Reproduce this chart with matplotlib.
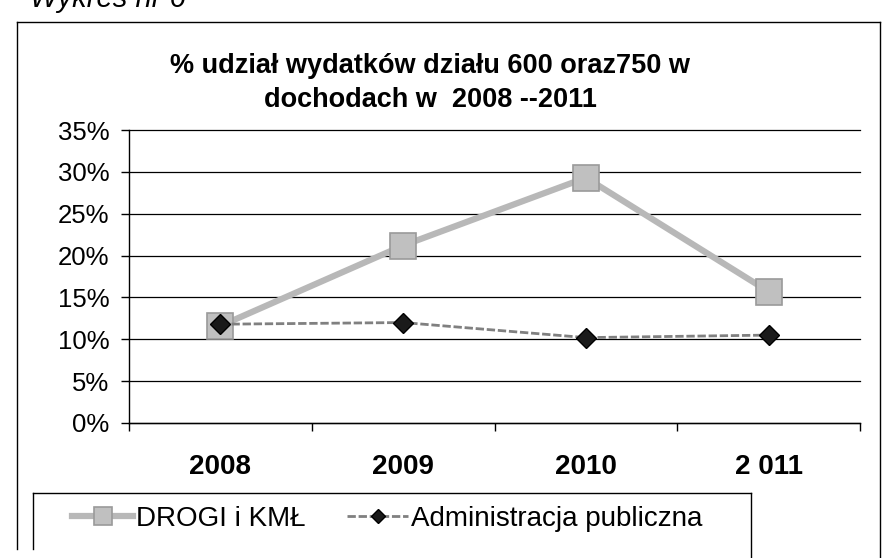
import matplotlib
matplotlib.use('Agg')
import matplotlib.pyplot as plt
from matplotlib.lines import Line2D
from matplotlib.ticker import PercentFormatter

# ---- data ----
years = ['2008', '2009', '2010', '2 011']
drogi = [11.6, 21.2, 29.3, 15.7]
admin = [11.8, 12.0, 10.2, 10.5]
y_ticks = [0, 5, 10, 15, 20, 25, 30, 35]
series_names = ['DROGI i KMŁ', 'Administracja publiczna']
title_l1 = '% udział wydatków działu 600 oraz750 w'
title_l2 = 'dochodach w  2008 --2011'
caption = 'Wykres nr 6'

plt.rcParams['font.family'] = ['Liberation Sans', 'DejaVu Sans']

W, H = 882, 558
fig = plt.figure(figsize=(W / 100, H / 100), dpi=100)
fig.patch.set_facecolor('white')

def fx(px):
    return px / W

def fy(py):
    return 1 - py / H

ax = fig.add_axes([fx(129), fy(423), fx(860) - fx(129), (423 - 130) / H])
x = list(range(len(years)))
l1, = ax.plot(x, drogi, color='#b8b8b8', lw=4.5, marker='s', ms=19,
              mfc='#c0c0c0', mec='#9a9a9a', mew=1.2, zorder=3,
              label=series_names[0])
l2, = ax.plot(x, admin, color='#808080', lw=2, ls=(0, (3, 1)), marker='D',
              ms=10.5, mfc='#1a1a1a', mec='#000000', zorder=4,
              label=series_names[1])

ax.set_xlim(-0.5, len(years) - 0.5)
ax.set_ylim(0, 35)
ax.set_yticks(y_ticks)
ax.yaxis.set_major_formatter(PercentFormatter(100, decimals=0))
ax.grid(axis='y', color='black', lw=0.9)
for gl in ax.get_ygridlines():
    gl.set_clip_on(False)
ax.set_axisbelow(True)
for s in ['top', 'right']:
    ax.spines[s].set_visible(False)
ax.spines['left'].set_linewidth(1.0)
ax.spines['bottom'].set_linewidth(1.0)

ax.set_xticks(x)
ax.set_xticklabels(years, fontsize=20, fontweight='bold')
ax.tick_params(axis='x', which='major', length=0, pad=22)
ax.set_xticks([i - 0.5 for i in range(len(years) + 1)], minor=True)
ax.tick_params(axis='x', which='minor', length=6, width=1, direction='out')
ax.tick_params(axis='y', length=6, width=1, direction='out', pad=8, labelsize=18.5)

# title
fig.text(fx(430), fy(66), title_l1, ha='center', va='center', fontsize=19.5, fontweight='bold')
fig.text(fx(430), fy(100), title_l2, ha='center', va='center', fontsize=19.5, fontweight='bold')

# caption cut at the top
fig.text(fx(30), fy(7), caption, ha='left', va='baseline', fontsize=21, style='italic')

# outer chart border
def fline(xs, ys, lw=1.0):
    fig.add_artist(Line2D([fx(v) for v in xs], [fy(v) for v in ys], color='black',
                          lw=lw, transform=fig.transFigure))

fline([17, 17], [22, 549])
fline([17, 880], [22, 22])
fline([880, 880], [22, 558])

# legend box
fline([33, 33], [493, 549])
fline([33, 751], [493, 493])
fline([751, 751], [493, 558])

fig.legend(handles=[l1, l2], loc='center left', bbox_to_anchor=(fx(72), fy(519)),
           ncol=2, frameon=False, fontsize=20, handlelength=2.2, handletextpad=0.1,
           columnspacing=1.5, borderaxespad=0, borderpad=0, markerscale=0.7)

fig.savefig('out.png', dpi=100)
